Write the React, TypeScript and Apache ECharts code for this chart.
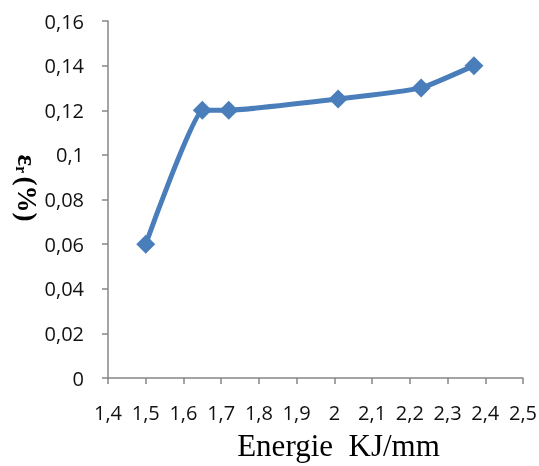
import React, { useEffect, useRef } from "react";
import * as echarts from "echarts";

const energy = [1.5, 1.65, 1.72, 2.01, 2.23, 2.37];
const strain = [0.06, 0.12, 0.12, 0.125, 0.13, 0.14];
const xTitle = "Energie  KJ/mm";

export default function App() {
  const ref = useRef<HTMLDivElement>(null);
  useEffect(() => {
    if (!ref.current) return;
    const chart = echarts.init(ref.current, null, { renderer: "svg" });
    const axisColor = "#868686";
    chart.setOption({
      animation: false,
      grid: { left: 108, right: 16, top: 21, bottom: 88, containLabel: false, outerBoundsMode: "none" },
      xAxis: {
        type: "value",
        min: 1.4,
        max: 2.5,
        interval: 0.1,
        splitLine: { show: false },
        axisLine: { show: true, lineStyle: { color: axisColor, width: 1.5 } },
        axisTick: { show: true, length: 6, lineStyle: { color: axisColor, width: 1.5 } },
        axisLabel: {
          margin: 24,
          color: "#111",
          fontFamily: "Open Sans",
          fontSize: 20,
          formatter: (v: number) => String(Math.round(v * 10) / 10).replace(".", ","),
        },
        name: xTitle,
        nameLocation: "middle",
        nameGap: 52,
        nameTextStyle: { fontFamily: "Liberation Serif", fontSize: 31, color: "#000", padding: [0, 0, 0, 46] },
      },
      yAxis: {
        type: "value",
        min: 0,
        max: 0.16,
        interval: 0.02,
        splitLine: { show: false },
        axisLine: { show: true, lineStyle: { color: axisColor, width: 1.5 } },
        axisTick: { show: true, length: 6, lineStyle: { color: axisColor, width: 1.5 } },
        axisLabel: {
          margin: 24,
          color: "#111",
          fontFamily: "Open Sans",
          fontSize: 20,
          formatter: (v: number) => String(Math.round(v * 100) / 100).replace(".", ","),
        },
      },
      graphic: [
        {
          type: "text",
          x: 27,
          y: 188,
          rotation: -Math.PI / 2,
          style: {
            text: "{a|ε}{b|r} {a|(%)}",
            align: "center",
            verticalAlign: "middle",
            fill: "#000",
            rich: {
              a: { fontFamily: "Liberation Serif", fontSize: 27, fontWeight: "bold", fill: "#000" },
              b: { fontFamily: "Liberation Serif", fontSize: 16, fontWeight: "bold", fill: "#000", padding: [11, 0, 0, 0] },
            },
          },
        },
      ],
      series: [
        {
          type: "line",
          data: energy.map((e, i) => [e, strain[i]]),
          smooth: 0.12,
          symbol: "diamond",
          symbolSize: 19,
          itemStyle: { color: "#4a7ebb" },
          lineStyle: { color: "#4a7ebb", width: 5 },
        },
      ],
    });
    return () => chart.dispose();
  }, []);
  return (
    <div
      ref={ref}
      style={{ position: "fixed", left: 0, top: 0, width: 539, height: 466 }}
    />
  );
}
